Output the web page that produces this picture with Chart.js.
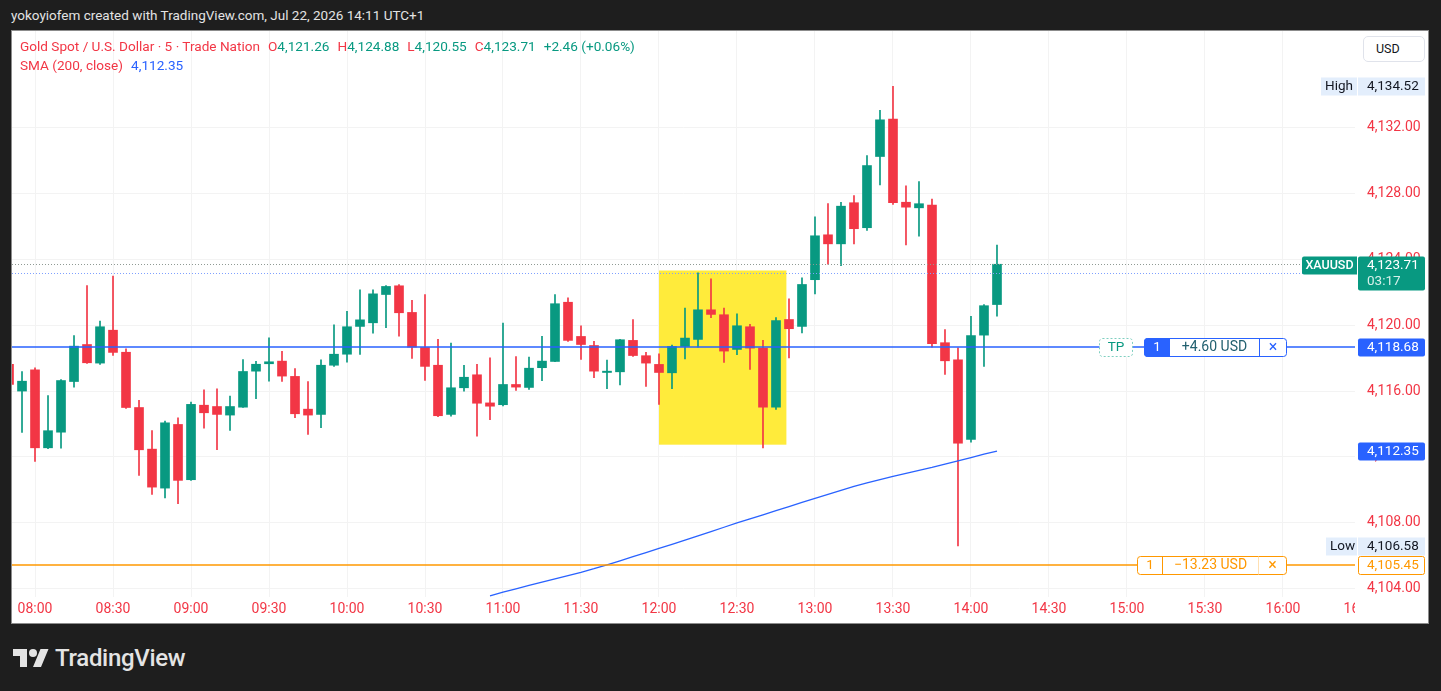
<!DOCTYPE html>
<html>
<head>
<meta charset="utf-8">
<title>XAUUSD 5m</title>
<script src="https://cdn.jsdelivr.net/npm/chart.js@4.4.1/dist/chart.umd.min.js"></script>
<style>
  body { margin: 0; background: #1e1e1e; width: 1441px; height: 691px; overflow: hidden; font-family: Roboto, sans-serif; }
  #top { position: absolute; left: 11px; top: 7px; color: #e3e3e3; font-size: 13.5px; }
  #panel { position: absolute; left: 11px; top: 30px; width: 1416px; height: 592px; background: #fff; border: 1px solid #8c8c8c; }
  #wrap { position: absolute; left: 0; top: 0; width: 1416px; height: 592px; }
  #legend { position: absolute; left: 8px; top: 6px; font-size: 13.6px; line-height: 19px; white-space: nowrap; }
  #legend span { margin-right: 8px; }
  #legend span.k { margin-right: 0; }
  .r { color: #f23645; }
  .g { color: #089981; }
  .b { color: #2962ff; }
  #usd { position: absolute; left: 1351px; top: 5px; width: 60px; height: 24px; border: 1px solid #e0e3eb; border-radius: 5px; background: #fff; font-size: 12.5px; line-height: 24px; color: #131722; }
  #usd span { margin-left: 12px; }
  #logo { position: absolute; left: 13px; top: 645px; color: #e4e4e4; }
  #logo svg { position: absolute; left: 0; top: 0; }
  #logo div { position: absolute; left: 42px; top: -1px; font-size: 24px; font-weight: 500; white-space: nowrap; letter-spacing: -0.3px; }
</style>
</head>
<body>
<div id="top">yokoyiofem created with TradingView.com, Jul 22, 2026 14:11 UTC+1</div>
<div id="panel">
  <div id="wrap"><canvas id="chart"></canvas></div>
  <div id="legend">
    <div><span class="r">Gold Spot / U.S. Dollar · 5 · Trade Nation</span><span class="k r">O</span><span class="g">4,121.26</span><span class="k r">H</span><span class="g">4,124.88</span><span class="k r">L</span><span class="g">4,120.55</span><span class="k r">C</span><span class="g">4,123.71</span><span class="g">+2.46 (+0.06%)</span></div>
    <div><span class="r">SMA (200, close)</span><span class="b">4,112.35</span></div>
  </div>
  <div id="usd"><span>USD</span></div>
</div>
<div id="logo">
  <svg width="36" height="28" viewBox="0 0 36 28" fill="#e4e4e4"><path d="M14 22H7V11H0V4h14v18zM28 22h-8l7.5-18h8L28 22z"/><circle cx="20" cy="8" r="4"/></svg>
  <div>TradingView</div>
</div>

<script>
// 5 minute candles
var times = [
  '07:50', '07:55',
  '08:00', '08:05', '08:10', '08:15', '08:20', '08:25', '08:30', '08:35', '08:40', '08:45', '08:50', '08:55',
  '09:00', '09:05', '09:10', '09:15', '09:20', '09:25', '09:30', '09:35', '09:40', '09:45', '09:50', '09:55',
  '10:00', '10:05', '10:10', '10:15', '10:20', '10:25', '10:30', '10:35', '10:40', '10:45', '10:50', '10:55',
  '11:00', '11:05', '11:10', '11:15', '11:20', '11:25', '11:30', '11:35', '11:40', '11:45', '11:50', '11:55',
  '12:00', '12:05', '12:10', '12:15', '12:20', '12:25', '12:30', '12:35', '12:40', '12:45', '12:50', '12:55',
  '13:00', '13:05', '13:10', '13:15', '13:20', '13:25', '13:30', '13:35', '13:40', '13:45', '13:50', '13:55',
  '14:00', '14:05', '14:10'
];
var opens = [
  4117.62, 4116.00,
  4117.29, 4112.55, 4113.50, 4116.58, 4118.83, 4117.70, 4119.70, 4118.36, 4115.00, 4112.47, 4110.10, 4113.97,
  4110.61, 4115.14, 4115.06, 4114.54, 4115.02, 4117.21, 4117.66, 4117.82, 4116.89, 4114.90, 4114.58, 4117.57,
  4118.24, 4119.93, 4120.15, 4121.87, 4122.40, 4120.78, 4118.65, 4117.57, 4114.58, 4116.20, 4116.99, 4115.28,
  4115.17, 4116.40, 4116.22, 4117.42, 4117.80, 4121.40, 4119.32, 4118.77, 4117.13, 4117.17, 4119.08, 4118.15,
  4117.62, 4117.11, 4118.71, 4119.14, 4120.94, 4120.64, 4118.53, 4119.91, 4118.61, 4115.02, 4120.35, 4119.93,
  4122.77, 4125.50, 4124.95, 4127.45, 4125.93, 4130.26, 4132.53, 4127.48, 4127.14, 4127.30, 4118.94, 4117.90,
  4113.06, 4119.40, 4121.26
];
var highs = [
  4117.80, 4117.19,
  4117.42, 4115.73, 4116.70, 4119.38, 4122.42, 4120.25, 4122.99, 4118.57, 4115.43, 4113.60, 4114.17, 4114.38,
  4115.33, 4116.08, 4116.14, 4115.69, 4117.92, 4117.80, 4119.24, 4118.41, 4117.37, 4116.57, 4117.90, 4120.03,
  4120.84, 4122.16, 4122.16, 4122.42, 4122.48, 4121.51, 4121.87, 4119.14, 4118.91, 4117.57, 4117.62, 4118.02,
  4120.13, 4118.10, 4118.06, 4119.32, 4121.87, 4121.67, 4119.97, 4119.03, 4117.88, 4119.15, 4120.35, 4118.35,
  4118.27, 4118.79, 4121.04, 4123.19, 4122.83, 4121.04, 4120.70, 4120.05, 4119.08, 4120.46, 4121.61, 4122.89,
  4126.60, 4127.40, 4127.48, 4127.89, 4130.32, 4133.06, 4134.52, 4128.48, 4128.74, 4127.67, 4119.74, 4118.63,
  4120.55, 4121.26, 4124.88
];
var lows = [
  4116.30, 4113.48,
  4111.72, 4112.50, 4112.53, 4116.24, 4117.68, 4117.62, 4118.16, 4114.95, 4110.87, 4109.71, 4109.51, 4109.15,
  4110.57, 4113.74, 4112.43, 4113.60, 4115.00, 4115.53, 4116.60, 4116.58, 4114.38, 4113.36, 4113.77, 4117.50,
  4117.76, 4118.23, 4119.52, 4119.85, 4119.34, 4117.98, 4116.64, 4114.45, 4114.48, 4116.00, 4113.26, 4114.26,
  4115.10, 4116.04, 4116.10, 4116.63, 4117.78, 4119.02, 4117.92, 4116.81, 4116.14, 4116.38, 4118.10, 4116.28,
  4115.19, 4116.14, 4117.96, 4118.67, 4120.46, 4117.74, 4118.21, 4117.31, 4112.55, 4114.88, 4118.02, 4119.54,
  4121.91, 4123.71, 4123.62, 4124.95, 4125.76, 4128.54, 4127.34, 4124.89, 4125.42, 4118.67, 4117.01, 4106.58,
  4112.89, 4117.50, 4120.55
];
var closes = [
  4116.40, 4116.60,
  4112.55, 4113.59, 4116.64, 4118.73, 4117.72, 4119.91, 4118.35, 4115.00, 4112.43, 4110.16, 4114.07, 4110.57,
  4115.19, 4114.68, 4114.58, 4115.06, 4117.19, 4117.63, 4117.78, 4116.91, 4114.62, 4114.54, 4117.57, 4118.24,
  4119.91, 4120.33, 4121.91, 4122.36, 4120.76, 4118.67, 4117.50, 4114.50, 4116.20, 4116.84, 4115.26, 4115.08,
  4116.40, 4116.24, 4117.39, 4117.82, 4121.31, 4119.08, 4118.83, 4117.21, 4117.21, 4119.12, 4118.16, 4117.70,
  4117.13, 4118.71, 4119.22, 4120.94, 4120.66, 4118.43, 4119.97, 4118.61, 4115.02, 4120.29, 4119.79, 4122.48,
  4125.44, 4124.95, 4127.24, 4125.87, 4129.71, 4132.49, 4127.45, 4127.18, 4127.39, 4118.88, 4117.84, 4112.83,
  4119.38, 4121.19, 4123.71
];
// SMA 200 only where it shows above the bottom of the pane
var smaValues = [
  null, null,
  null, null, null, null, null, null, null, null, null, null, null, null,
  null, null, null, null, null, null, null, null, null, null, null, null,
  null, null, null, null, null, null, null, null, null, null, null, 4103.55,
  4103.78, 4103.98, 4104.18, 4104.38, 4104.58, 4104.78, 4104.98, 4105.20, 4105.44, 4105.68, 4105.93, 4106.18,
  4106.43, 4106.68, 4106.94, 4107.20, 4107.46, 4107.72, 4107.98, 4108.23, 4108.48, 4108.73, 4108.98, 4109.23,
  4109.48, 4109.72, 4109.96, 4110.20, 4110.42, 4110.62, 4110.82, 4111.00, 4111.18, 4111.36, 4111.56, 4111.76,
  4111.96, 4112.16, 4112.35
];
var timeTicks = ['08:00', '08:30', '09:00', '09:30', '10:00', '10:30', '11:00', '11:30', '12:00', '12:30',
  '13:00', '13:30', '14:00', '14:30', '15:00', '15:30', '16:00', '16:30'];
var priceTicks = [4104, 4108, 4112, 4116, 4120, 4124, 4128, 4132];

// drawings on the chart (prices / bar slots)
var boxSlots = [48, 57.8];
var boxPrices = [4112.74, 4123.33];
var tpPrice = 4118.68;
var slPrice = 4105.45;
var lastPrice = 4123.71;
var entryPrice = 4123.19;
var highPrice = 4134.52;
var lowPrice = 4106.58;
var smaLast = 4112.35;

var up = '#089981', down = '#f23645', blue = '#2962ff', orange = '#ff9800';

// bar slot counted from 08:00, one slot = 5 minutes
function slot(t) {
  var p = t.split(':');
  return ((+p[0] - 8) * 60 + (+p[1])) / 5;
}
function money(v) {
  return v.toLocaleString('en-US', { minimumFractionDigits: 2, maximumFractionDigits: 2 });
}

var colors = times.map(function (t, i) { return closes[i] >= opens[i] ? up : down; });

function rrect(c, x, y, w, h, r, fill, stroke) {
  c.beginPath();
  c.roundRect(x, y, w, h, r);
  if (fill) { c.fillStyle = fill; c.fill(); }
  if (stroke) { c.strokeStyle = stroke; c.lineWidth = 1; c.stroke(); }
}
function text(c, s, x, y, color, align, font) {
  c.font = font || '13.5px Roboto';
  c.fillStyle = color;
  c.textAlign = align || 'left';
  c.textBaseline = 'middle';
  c.fillText(s, x, y);
}

var drawings = {
  id: 'drawings',
  beforeDatasetsDraw: function (chart) {
    var c = chart.ctx, xs = chart.scales.x, ys = chart.scales.y;
    var x0 = xs.getPixelForValue(boxSlots[0]), x1 = xs.getPixelForValue(boxSlots[1]);
    var y0 = ys.getPixelForValue(boxPrices[1]), y1 = ys.getPixelForValue(boxPrices[0]);
    c.save();
    c.fillStyle = '#ffeb3b';
    c.fillRect(x0, y0, x1 - x0, y1 - y0);
    c.restore();
  },
  afterDraw: function (chart) {
    var c = chart.ctx, ys = chart.scales.y, a = chart.chartArea;
    var W = chart.width;
    c.save();
    // hide the part of the time labels running under the price scale
    c.fillStyle = '#fff';
    c.fillRect(a.right, a.bottom, W - a.right, chart.height - a.bottom);

    function py(v) { return Math.round(ys.getPixelForValue(v)) + 0.5; }
    function hline(v, color, dash, width) {
      var yy = Math.round(ys.getPixelForValue(v)) + (width ? 0 : 0.5);
      c.setLineDash(dash || []);
      c.strokeStyle = color;
      c.lineWidth = width || 1;
      c.beginPath();
      c.moveTo(a.left, yy);
      c.lineTo(a.right, yy);
      c.stroke();
      c.setLineDash([]);
      c.lineWidth = 1;
    }
    hline(lastPrice, '#8f9a94', [1, 2]);
    hline(entryPrice, '#7fa0ff', [1, 2]);
    hline(tpPrice, blue, null, 1.4);
    hline(slPrice, orange, null, 1.4);

    var bx = a.right + 3, bw = 67;
    // take profit order
    var y = py(tpPrice);
    c.setLineDash([2, 2]);
    rrect(c, a.right - 255.5, y - 9, 33, 18, 3, '#fff', '#7fcfc0');
    c.setLineDash([]);
    text(c, 'TP', a.right - 239, y, up, 'center');
    var ox = a.right - 210.5;
    rrect(c, ox, y - 9, 142, 18, 3, '#fff', blue);
    rrect(c, ox, y - 9, 25, 18, [3, 0, 0, 3], blue, blue);
    c.strokeStyle = blue;
    c.beginPath(); c.moveTo(ox + 115, y - 9); c.lineTo(ox + 115, y + 9); c.stroke();
    text(c, '1', ox + 12.5, y, '#fff', 'center');
    text(c, '+4.60 USD', ox + 70, y, '#22606f', 'center', '14px Roboto');
    text(c, '\u00d7', ox + 128.5, y, blue, 'center', '16px Roboto');

    // stop loss order
    y = py(slPrice);
    ox = a.right - 217.5;
    rrect(c, ox, y - 9, 149, 18, 3, '#fff', orange);
    c.strokeStyle = orange;
    c.beginPath(); c.moveTo(ox + 25, y - 9); c.lineTo(ox + 25, y + 9); c.stroke();
    c.strokeStyle = '#ffe0b2';
    c.beginPath(); c.moveTo(ox + 121, y - 9); c.lineTo(ox + 121, y + 9); c.stroke();
    text(c, '1', ox + 12.5, y, orange, 'center');
    text(c, '\u221213.23 USD', ox + 73, y, orange, 'center', '14px Roboto');
    text(c, '\u00d7', ox + 135, y, orange, 'center', '16px Roboto');

    // price scale labels
    y = py(highPrice);
    rrect(c, a.right - 34, y - 9, 36, 18, 0, '#e3eefc');
    rrect(c, bx, y - 9, bw, 18, 0, '#e3eefc');
    text(c, 'High', a.right - 30, y, '#131722');
    text(c, money(highPrice), bx + 9, y, '#131722');

    y = py(lowPrice);
    rrect(c, a.right - 29, y - 9, 31, 18, 0, '#e3eefc');
    rrect(c, bx, y - 9, bw, 18, 0, '#e3eefc');
    text(c, 'Low', a.right - 25, y, '#131722');
    text(c, money(lowPrice), bx + 9, y, '#131722');

    y = py(lastPrice);
    rrect(c, a.right - 53, y - 8, 55, 18, [2, 0, 0, 2], up);
    text(c, 'XAUUSD', a.right - 25.5, y + 1, '#fff', 'center', '500 12.5px Roboto');
    rrect(c, bx, y - 8, bw, 34, 2, up);
    text(c, money(lastPrice), bx + 9, y + 1, '#fff');
    text(c, '03:17', bx + 9, y + 17, '#d6f0ea');

    y = py(tpPrice);
    rrect(c, bx, y - 9, bw, 18, 2, blue);
    text(c, money(tpPrice), bx + 9, y, '#fff');

    y = py(smaLast);
    rrect(c, bx, y - 9, bw, 18, 2, blue);
    text(c, money(smaLast), bx + 9, y, '#fff');

    y = py(slPrice);
    rrect(c, bx + 0.5, y - 9, bw - 1, 18, 2, '#fff', orange);
    text(c, money(slPrice), bx + 9, y, orange);
    c.restore();
  }
};

var chart = new Chart(document.getElementById('chart'), {
  type: 'bar',
  data: {
    datasets: [
      {
        type: 'line',
        label: 'SMA (200, close)',
        data: times.map(function (t, i) { return { x: slot(t), y: smaValues[i] }; }),
        borderColor: blue,
        borderWidth: 1.3,
        pointRadius: 0,
        tension: 0,
        spanGaps: false
      },
      {
        label: 'body',
        data: times.map(function (t, i) { return { x: slot(t), y: [opens[i], closes[i]] }; }),
        backgroundColor: colors,
        barThickness: 9,
        minBarLength: 1,
        grouped: false
      },
      {
        label: 'wick',
        data: times.map(function (t, i) { return { x: slot(t), y: [lows[i], highs[i]] }; }),
        backgroundColor: colors,
        barThickness: 1,
        grouped: false
      }
    ]
  },
  options: {
    responsive: true,
    maintainAspectRatio: false,
    animation: false,
    events: [],
    layout: { padding: 0 },
    plugins: { legend: { display: false }, tooltip: { enabled: false } },
    scales: {
      x: {
        type: 'linear',
        min: -1.77,
        max: 101.54,
        offset: false,
        afterBuildTicks: function (axis) {
          axis.ticks = timeTicks.map(function (t) { return { value: slot(t) }; });
        },
        afterFit: function (axis) {
          axis.height = 26;
          axis.paddingLeft = 0;
          axis.paddingRight = 0;
        },
        ticks: {
          autoSkip: false,
          maxRotation: 0,
          padding: 4,
          color: '#f23645',
          font: { family: 'Roboto', size: 14 },
          callback: function (v, i) { return timeTicks[i]; }
        },
        grid: {
          drawTicks: false,
          offset: false,
          color: function (c) { return c.tick && c.tick.value > 101.5 ? 'rgba(0,0,0,0)' : '#f3f3f3'; }
        },
        border: { display: false }
      },
      y: {
        position: 'right',
        min: 4103.48,
        max: 4137.89,
        afterBuildTicks: function (axis) {
          axis.ticks = priceTicks.map(function (v) { return { value: v }; });
        },
        afterFit: function (axis) {
          axis.width = 73;
          axis.paddingTop = 0;
          axis.paddingBottom = 0;
        },
        ticks: {
          padding: 12,
          color: '#f23645',
          font: { family: 'Roboto', size: 14 },
          callback: function (v) { return money(v); }
        },
        grid: { drawTicks: false, color: '#f3f3f3' },
        border: { display: false }
      }
    }
  },
  plugins: [drawings]
});
</script>
</body>
</html>
